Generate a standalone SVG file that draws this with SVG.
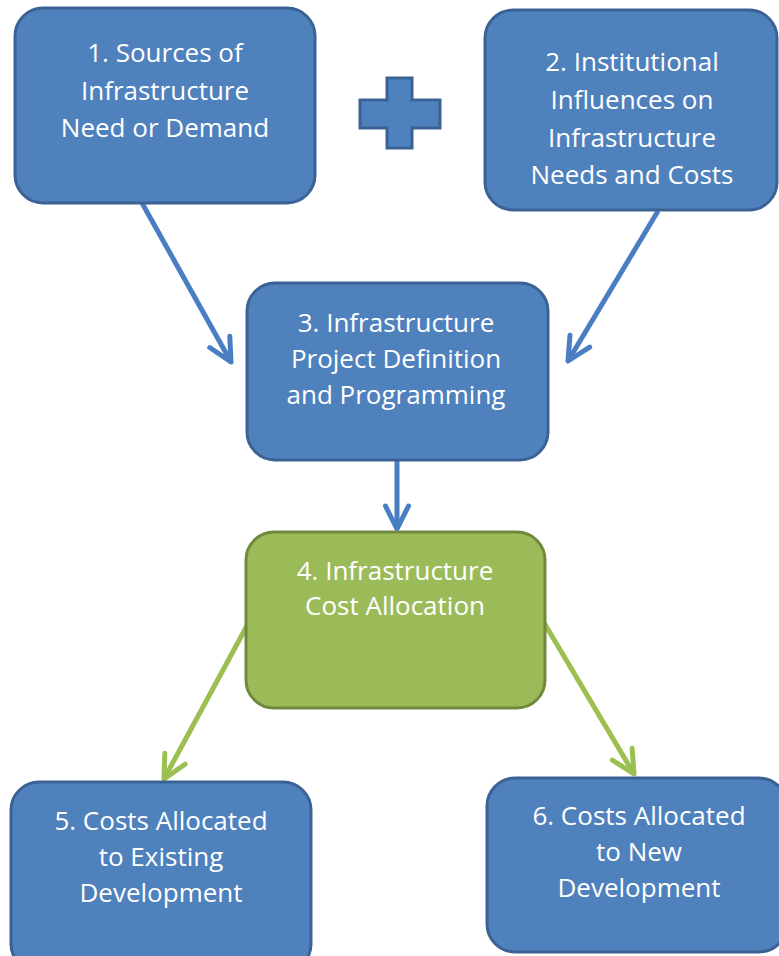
<svg xmlns="http://www.w3.org/2000/svg" width="779" height="956" viewBox="0 0 779 956">
<defs>
<style>
.blue{fill:#4F81BD;stroke:#3A6294;stroke-width:3}
.green{fill:#9BBB59;stroke:#71893F;stroke-width:3}
.t{font-family:"Open Sans","Liberation Sans",sans-serif;font-size:26px;fill:#ffffff;text-anchor:middle}
.cb{fill:none;stroke:#4A7EC2;stroke-width:5}
.cg{fill:none;stroke:#9BBF50;stroke-width:5}
</style>
<marker id="ab" markerUnits="userSpaceOnUse" markerWidth="40" markerHeight="40" viewBox="-30 -20 40 40" refX="0" refY="0" orient="auto" overflow="visible">
<path d="M-23,-11.5 L0,0 L-23,11.5" fill="none" stroke="#4A7EC2" stroke-width="5" stroke-linejoin="round" stroke-linecap="round"/>
</marker>
<marker id="ag" markerUnits="userSpaceOnUse" markerWidth="40" markerHeight="40" viewBox="-30 -20 40 40" refX="0" refY="0" orient="auto" overflow="visible">
<path d="M-23,-11.5 L0,0 L-23,11.5" fill="none" stroke="#9BBF50" stroke-width="5" stroke-linejoin="round" stroke-linecap="round"/>
</marker>
</defs>
<rect width="779" height="956" fill="#ffffff"/>
<g id="connectors">
<line class="cb" x1="142" y1="203" x2="231" y2="362" marker-end="url(#ab)"/>
<line class="cb" x1="658" y1="211" x2="568" y2="361" marker-end="url(#ab)"/>
<line class="cb" x1="397" y1="461" x2="397" y2="529" marker-end="url(#ab)"/>
<line class="cg" x1="249" y1="622" x2="164" y2="779" marker-end="url(#ag)"/>
<line class="cg" x1="543" y1="621" x2="634" y2="774" marker-end="url(#ag)"/>
</g>
<g id="plus">
<path class="blue" d="M387,78 H412 V100 H440 V128 H412 V148 H387 V128 H360 V100 H387 Z"/>
</g>
<g id="node1">
<rect class="blue" x="15" y="8" width="300" height="195" rx="28"/>
<text class="t" x="165" y="62">1. Sources of</text>
<text class="t" x="165" y="100">Infrastructure</text>
<text class="t" x="165" y="137">Need or Demand</text>
</g>
<g id="node2">
<rect class="blue" x="485" y="10" width="292" height="200" rx="28"/>
<text class="t" x="632" y="71">2. Institutional</text>
<text class="t" x="632" y="109">Influences on</text>
<text class="t" x="632" y="147">Infrastructure</text>
<text class="t" x="632" y="184">Needs and Costs</text>
</g>
<g id="node3">
<rect class="blue" x="247" y="283" width="301" height="177" rx="28"/>
<text class="t" x="396" y="332">3. Infrastructure</text>
<text class="t" x="396" y="368">Project Definition</text>
<text class="t" x="396" y="404">and Programming</text>
</g>
<g id="node4">
<rect class="green" x="246" y="532" width="299" height="176" rx="28"/>
<text class="t" x="395" y="580">4. Infrastructure</text>
<text class="t" x="395" y="615">Cost Allocation</text>
</g>
<g id="node5">
<rect class="blue" x="11" y="782" width="300" height="190" rx="28"/>
<text class="t" x="161" y="830">5. Costs Allocated</text>
<text class="t" x="161" y="866">to Existing</text>
<text class="t" x="161" y="902">Development</text>
</g>
<g id="node6">
<rect class="blue" x="487" y="778" width="300" height="174" rx="28"/>
<text class="t" x="639" y="825">6. Costs Allocated</text>
<text class="t" x="639" y="861">to New</text>
<text class="t" x="639" y="897">Development</text>
</g>
</svg>
